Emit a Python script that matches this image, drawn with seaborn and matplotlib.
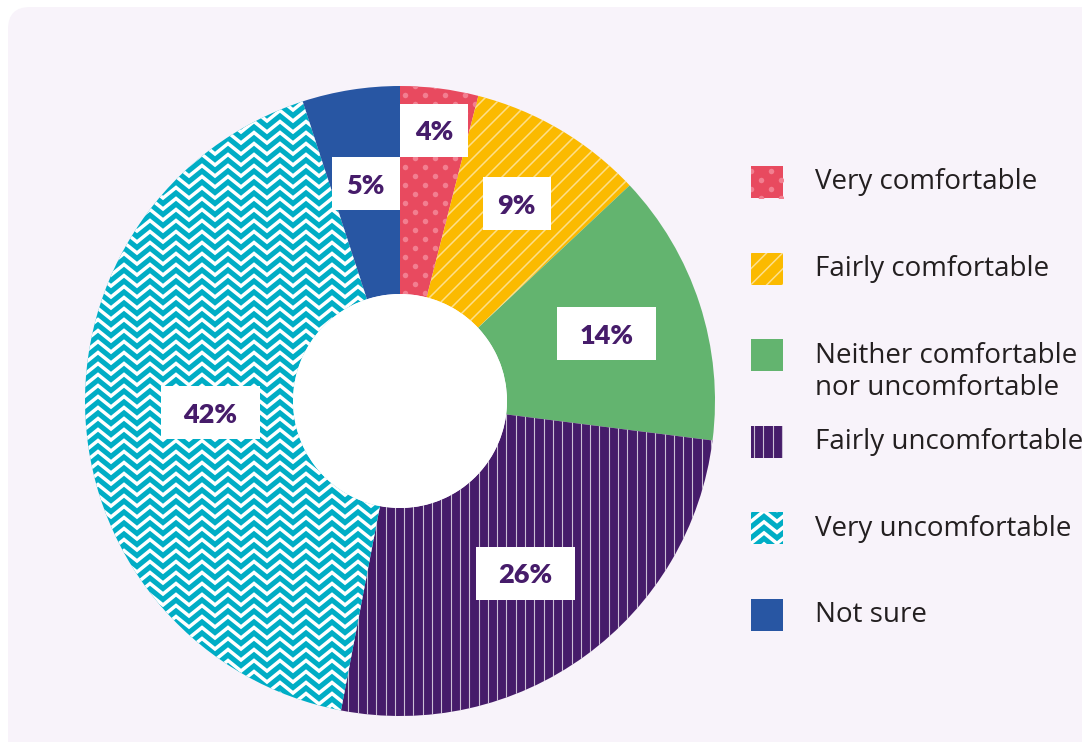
import numpy as np
import matplotlib
matplotlib.use("Agg")
import matplotlib.pyplot as plt
import seaborn as sns
from matplotlib.patches import FancyBboxPatch, Circle, Rectangle
from matplotlib.collections import LineCollection

# Survey answers, clockwise from 12 o'clock
categories = [
    "Very comfortable",
    "Fairly comfortable",
    "Neither comfortable\nnor uncomfortable",
    "Fairly uncomfortable",
    "Very uncomfortable",
    "Not sure",
]
shares = [4, 9, 14, 26, 42, 5]
value_labels = [f"{v}%" for v in shares]

sns.set_theme(style="white")
plt.rcParams["font.family"] = ["Lato", "DejaVu Sans"]

palette = sns.color_palette(
    ["#e84a5f", "#fbba00", "#63b46f", "#461c6a", "#00adc5", "#2856a3"]
)
fills = ["dots", "diag", None, "vlines", "chevron", None]

W, H = 1082, 742
fig = plt.figure(figsize=(W / 100, H / 100), dpi=100)
fig.patch.set_facecolor("white")
ax = fig.add_axes([0, 0, 1, 1])


def py(y):
    """Convert a top-based pixel row into the axes' y coordinate."""
    return H - y


# Rounded lavender card behind the chart
card = FancyBboxPatch((8, -30), W + 40, py(7) + 30,
                      boxstyle="round,pad=0,rounding_size=22",
                      fc="#f8f3fa", ec="none", zorder=0)
ax.add_patch(card)

CX, CY = 400, py(401)
R_OUT, R_IN = 315, 107

wedges, _ = ax.pie(shares, colors=palette, startangle=90, counterclock=False,
                   center=(CX, CY), radius=R_OUT,
                   wedgeprops=dict(width=R_OUT - R_IN, edgecolor="none",
                                   linewidth=0))
for w in wedges:
    w.set_zorder(2)


def pattern(kind, clip, x0, x1, y0, y1):
    if kind is None:
        return
    if kind == "dots":
        step, row = 20, 9
        xs, ys = [], []
        for i, y in enumerate(np.arange(y0 - row, y1 + row, row)):
            off = (i % 2) * step / 2
            for x in np.arange(x0 - step + off, x1 + step, step):
                xs.append(x)
                ys.append(y)
        sc = ax.scatter(xs, ys, s=(5.5 * 0.72) ** 2, color="#f27f90",
                        linewidths=0, zorder=3)
        sc.set_clip_path(clip)
        return
    if kind == "diag":
        gap = 16
        segs = [[(x0 - 10, x0 - 10 + c), (x1 + 10, x1 + 10 + c)]
                for c in np.arange(y0 - x1 - gap, y1 - x0 + gap, gap)]
        lc = LineCollection(segs, colors=[(1, 1, 1, 0.55)], linewidths=1.1,
                            zorder=3)
    elif kind == "vlines":
        gap = 9.3
        segs = [[(x, y0 - 5), (x, y1 + 5)]
                for x in np.arange(x0 + 3, x1 + gap, gap)]
        lc = LineCollection(segs, colors=[(1, 1, 1, 0.72)], linewidths=0.8,
                            zorder=3)
    elif kind == "chevron":
        pitch, period, amp = 11, 26, 10.5
        segs = []
        for y in np.arange(y0 - 2 * amp, y1 + 2 * amp, pitch):
            xs = np.arange(x0 - period, x1 + period, period / 2)
            ys = y + amp * (np.arange(len(xs)) % 2)
            segs.append(list(zip(xs, ys)))
        lc = LineCollection(segs, colors="white", linewidths=2.5, zorder=3,
                            joinstyle="miter", capstyle="butt")
    ax.add_collection(lc)
    lc.set_clip_path(clip)


for w, kind in zip(wedges, fills):
    pattern(kind, w, CX - R_OUT, CX + R_OUT, CY - R_OUT, CY + R_OUT)

ax.add_patch(Circle((CX, CY), R_IN, fc="white", ec="none", zorder=4))

# Value boxes inside the ring
label_r = [273, 229, 217, 213, 190, 220]
for w, txt, r in zip(wedges, value_labels, label_r):
    mid = np.deg2rad((w.theta1 + w.theta2) / 2)
    lx, ly = CX + r * np.cos(mid), CY + r * np.sin(mid)
    bw = 68 if len(txt) == 2 else 99
    ax.add_patch(Rectangle((lx - bw / 2, ly - 26.5), bw, 53, fc="white",
                           ec="none", zorder=5))
    ax.text(lx, ly, txt, ha="center", va="center_baseline", fontsize=19.5,
            fontweight="heavy", color="#461c6a", zorder=6)

# Legend with patterned swatches
row_y = [182 + 86.6 * i for i in range(len(categories))]
for cat, col, kind, yc in zip(categories, palette, fills, row_y):
    sq = Rectangle((751, py(yc) - 16), 32, 32, fc=col, ec="none", zorder=2)
    ax.add_patch(sq)
    pattern(kind, sq, 751, 783, py(yc) - 16, py(yc) + 16)
    for k, line in enumerate(cat.split("\n")):
        ax.text(815, py(yc - 3 + 32 * k), line, ha="left",
                va="center_baseline", fontsize=20, color="#231f20",
                family=["Open Sans", "DejaVu Sans"], zorder=6)

ax.set_xlim(0, W)
ax.set_ylim(0, H)
ax.set_aspect("auto")
ax.axis("off")

fig.savefig("out.png", dpi=100, facecolor="white")
